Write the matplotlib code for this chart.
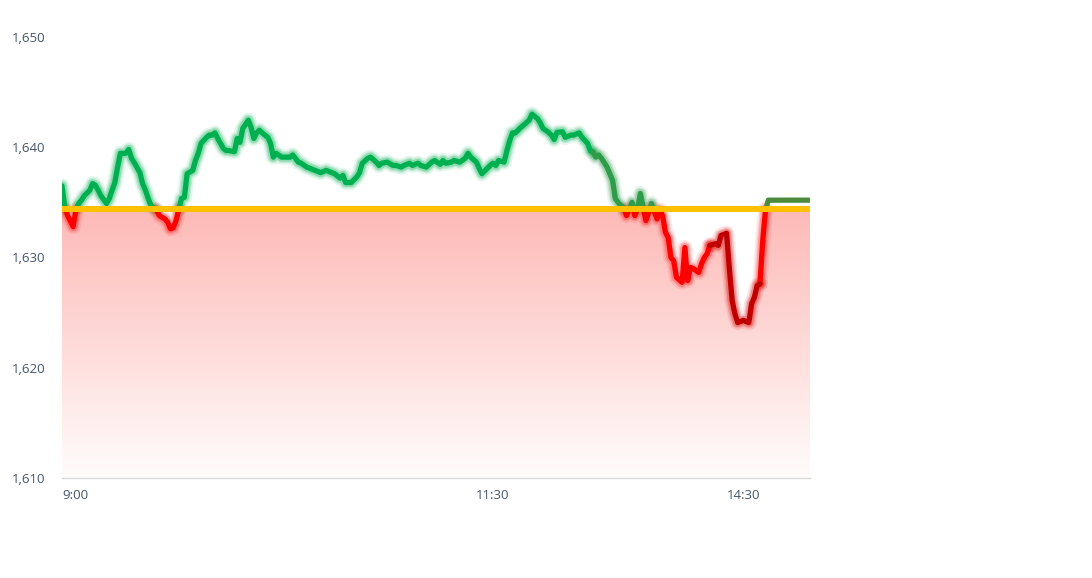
import matplotlib
matplotlib.use('Agg')
import matplotlib.pyplot as plt
import numpy as np
from matplotlib.colors import LinearSegmentedColormap
from matplotlib.patches import PathPatch
from matplotlib.path import Path

plt.rcParams['font.family'] = ['Open Sans', 'DejaVu Sans']

# trading minutes since 9:00 (lunch break removed, 13:00 -> 150)
minutes = [-5, -4, -3, -1, 0, 1, 2, 3, 5, 6, 7, 8, 9, 11, 12, 13, 14, 15, 16, 18,
           19, 20, 21, 23, 24, 25, 26, 27, 29, 30, 32, 33, 34, 35, 36, 38, 39, 40, 42, 43,
           44, 45, 47, 48, 49, 50, 51, 53, 54, 55, 57, 58, 59, 60, 62, 63, 64, 65, 66, 67,
           69, 70, 71, 72, 74, 75, 77, 78, 80, 81, 83, 84, 86, 88, 90, 91, 93, 95, 96, 97,
           99, 101, 102, 103, 105, 106, 108, 109, 110, 112, 114, 115, 117, 118, 120, 121, 123, 124, 126, 128,
           129, 131, 132, 133, 135, 136, 138, 140, 141, 142, 144, 145, 146, 148, 149, 150, 151, 152, 154, 155,
           156, 157, 158, 160, 161, 163, 164, 166, 167, 168, 170, 171, 172, 173, 175, 176, 178, 179, 181, 182,
           184, 185, 186, 187, 188, 189, 191, 192, 193, 194, 195, 196, 197, 198, 200, 201, 202, 203, 205, 206,
           207, 209, 210, 211, 212, 213, 214, 215, 216, 218, 219, 220, 221, 222, 224, 225, 226, 227, 228, 230,
           231, 232, 234, 235, 236, 237, 238, 240, 242, 243, 244, 245, 246, 247, 248, 249, 256, 264]
price = [1636.5, 1634.6, 1633.8, 1632.8, 1634.3, 1634.9, 1635.2, 1635.6, 1636.1, 1636.7,
         1636.55, 1636.1, 1635.6, 1634.9, 1635.35, 1636.1, 1636.8, 1638.2, 1639.45, 1639.45,
         1639.8, 1639.0, 1638.6, 1637.7, 1636.7, 1636.1, 1635.35, 1634.7, 1634.3, 1633.8,
         1633.5, 1633.2, 1632.6, 1632.7, 1633.35, 1635.35, 1635.45, 1637.6, 1637.9, 1638.8,
         1639.45, 1640.35, 1640.9, 1641.1, 1641.1, 1641.3, 1640.8, 1639.9, 1639.7, 1639.7,
         1639.6, 1640.8, 1640.45, 1641.7, 1642.45, 1641.8, 1640.8, 1641.3, 1641.55, 1641.3,
         1640.9, 1640.35, 1639.1, 1639.45, 1639.1, 1639.1, 1639.1, 1639.3, 1638.65, 1638.55,
         1638.2, 1638.1, 1637.9, 1637.7, 1637.9, 1637.8, 1637.6, 1637.2, 1637.45, 1636.8,
         1636.8, 1637.3, 1637.7, 1638.55, 1639.0, 1639.1, 1638.65, 1638.35, 1638.55, 1638.65,
         1638.35, 1638.35, 1638.2, 1638.35, 1638.55, 1638.35, 1638.55, 1638.35, 1638.2, 1638.65,
         1638.8, 1638.45, 1638.8, 1638.55, 1638.65, 1638.8, 1638.65, 1639.0, 1639.45, 1639.1,
         1638.65, 1638.1, 1637.6, 1638.1, 1638.35, 1638.55, 1638.35, 1638.8, 1638.65, 1639.7,
         1640.6, 1641.3, 1641.3, 1641.8, 1642.0, 1642.45, 1643.0, 1642.6, 1642.2, 1641.7,
         1641.35, 1641.1, 1640.7, 1641.35, 1641.4, 1640.9, 1641.1, 1641.1, 1641.3, 1640.9,
         1640.35, 1639.7, 1639.55, 1639.1, 1639.3, 1639.0, 1638.2, 1637.6, 1637.0, 1635.35,
         1635.0, 1634.7, 1634.55, 1633.8, 1635.0, 1633.8, 1634.45, 1635.8, 1633.35, 1634.1,
         1634.9, 1633.5, 1634.3, 1633.8, 1632.3, 1631.8, 1630.0, 1629.7, 1628.2, 1627.75,
         1630.9, 1627.9, 1629.1, 1629.0, 1628.65, 1629.45, 1630.0, 1630.35, 1631.1, 1631.25,
         1631.1, 1632.0, 1632.2, 1629.0, 1626.1, 1624.9, 1624.1, 1624.3, 1624.1, 1625.8,
         1626.4, 1627.45, 1627.6, 1631.55, 1634.3, 1635.2, 1635.2, 1635.2]
prev_close = 1634.4

tick_pos = [0, 150, 240]
tick_labels = ['9:00', '11:30', '14:30']
y_ticks = [1610, 1620, 1630, 1640, 1650]


def split_at(x, y, level):
    # add the exact crossing points so both halves meet on the baseline
    xs, ys = [x[0]], [y[0]]
    for i in range(1, len(x)):
        if (y[i - 1] - level) * (y[i] - level) < 0:
            t = (level - y[i - 1]) / (y[i] - y[i - 1])
            xs.append(x[i - 1] + t * (x[i] - x[i - 1]))
            ys.append(level)
        xs.append(x[i])
        ys.append(y[i])
    return np.array(xs, float), np.array(ys, float)


def glow_line(ax, x, y, color, glow):
    for lw, a in [(11, 0.10), (8.5, 0.16), (6.5, 0.25)]:
        ax.plot(x, y, color=glow, lw=lw, alpha=a, solid_capstyle='round', zorder=3)
    ax.plot(x, y, color=color, lw=3.8, solid_capstyle='round',
            solid_joinstyle='round', zorder=4)


x, y = split_at(np.array(minutes, float), np.array(price), prev_close)
x0, x1 = -5, 264
y0, y1 = 1610, 1650

fig = plt.figure(figsize=(10.92, 5.78), dpi=100)
ax = fig.add_axes([62 / 1092, 1 - 478 / 578, 748 / 1092, 441 / 578])
ax.set_xlim(x0, x1)
ax.set_ylim(y0, y1)

# gradient area from the lower of price / previous close down to the axis
top = np.minimum(y, prev_close)
verts = np.concatenate([np.column_stack([x, top]),
                        [[x[-1], y0], [x[0], y0]]])
clip = PathPatch(Path(verts), facecolor='none', edgecolor='none')
ax.add_patch(clip)
cmap = LinearSegmentedColormap.from_list('fade', ['#fffcfc', '#fdb9b6'])
grad = np.linspace(0, 1, 256).reshape(-1, 1)
im = ax.imshow(grad, cmap=cmap, aspect='auto', origin='lower',
               extent=[x0, x1, y0, prev_close], zorder=1)
im.set_clip_path(clip)

up = np.ma.masked_where(y < prev_close, y)
dn = np.ma.masked_where(y > prev_close, y)
flat = x >= 248.5
glow_line(ax, x, np.ma.masked_where(x > 186, up), '#00b050', '#00b050')
glow_line(ax, x, np.ma.masked_where((x < 186) | flat, up), '#2e9c48', '#2e9c48')
ax.plot(x, np.ma.masked_where(x < 248, up), color='#4b8b3b', lw=3.8, zorder=4)
deep = (x >= 229) & (x <= 245)
glow_line(ax, x, np.ma.masked_where(deep, dn), '#ff0000', '#ff2020')
glow_line(ax, x, np.ma.masked_where((x < 228) | (x > 246), dn), '#c00000', '#e00000')

ax.axhline(prev_close, color='#ffc000', lw=4.3, zorder=5)

ax.set_xticks(tick_pos)
ax.set_xticklabels(tick_labels)
ax.set_yticks(y_ticks)
ax.set_yticklabels([f'{v:,}' for v in y_ticks])
ax.tick_params(axis='both', length=0, colors='#44546a', labelsize=9.5)
ax.tick_params(axis='x', pad=8)
ax.tick_params(axis='y', pad=12)
for s in ['top', 'right', 'left']:
    ax.spines[s].set_visible(False)
ax.spines['bottom'].set_color('#d9d9d9')
ax.spines['bottom'].set_linewidth(1)

fig.savefig('out.png', dpi=100)
